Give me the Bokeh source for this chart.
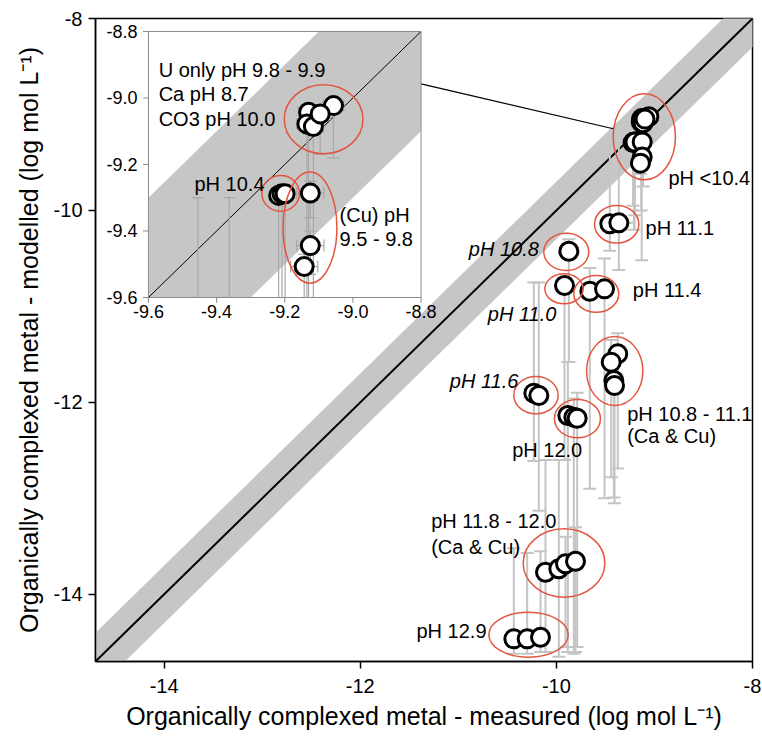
import numpy as np
from bokeh.plotting import figure
from bokeh.models import Range1d, FixedTicker, ColumnDataSource
from bokeh.core.properties import value
from bokeh.embed import file_html
from bokeh.resources import INLINE

# ---------------- data ----------------
main_ticks = [-14, -12, -10, -8]
main_tick_labels = ["-14", "-12", "-10", "-8"]
inset_ticks = [-9.6, -9.4, -9.2, -9.0, -8.8]
inset_tick_labels = ["-9.6", "-9.4", "-9.2", "-9.0", "-8.8"]

measured = [-9.057, -9.130, -9.135, -9.116, -9.096,
            -9.218, -9.208, -9.199,
            -9.125, -9.125, -9.143,
            -9.455, -9.363,
            -9.873,
            -9.917,
            -9.659, -9.509,
            -9.374, -9.441, -9.414, -9.407,
            -10.230, -10.179,
            -9.883, -9.822, -9.788,
            -10.111, -9.975, -9.907, -9.805,
            -10.434, -10.298, -10.162]
modelled = [-9.023, -9.043, -9.078, -9.086, -9.048,
            -9.293, -9.288, -9.288,
            -9.286, -9.444, -9.507,
            -10.139, -10.129,
            -10.425,
            -10.782,
            -10.842, -10.817,
            -11.494, -11.581, -11.772, -11.824,
            -11.904, -11.928,
            -12.137, -12.154, -12.165,
            -13.770, -13.734, -13.682, -13.655,
            -14.464, -14.464, -14.447]
modelled_low = [-9.18, -10.52, -10.00, -9.75, -9.17,
                -9.95, -10.20, -10.05,
                -9.36, -9.53, -9.62,
                -10.42, -10.62,
                -11.58,
                -12.60,
                -12.90, -13.00,
                -12.69, -12.78, -12.99, -13.05,
                -12.61, -13.13,
                -14.60, -14.62, -14.55,
                -14.60, -14.65, -14.55, -14.60,
                -14.62, -14.62, -14.60]
modelled_high = [-9.00, -9.02, -9.04, -9.05, -9.02,
                 -9.29, -9.27, -9.27,
                 -9.25, -9.40, -9.47,
                 -9.30, -9.30,
                 -10.30,
                 -10.70,
                 -10.60, -10.50,
                 -11.28, -11.35, -11.50, -11.60,
                 -10.75, -10.75,
                 -11.58, -11.96, -11.90,
                 -12.60, -12.60, -13.40, -13.30,
                 -13.52, -13.57, -13.55]
measured_err = [0.03, 0.03, 0.03, 0.03, 0.03,
                0.02, 0.02, 0.02,
                0.04, 0.04, 0.04,
                0.06, 0.16,
                0.05,
                0.05,
                0.05, 0.05,
                0.06, 0.06, 0.06, 0.06,
                0.05, 0.05,
                0.06, 0.06, 0.06,
                0.05, 0.05, 0.05, 0.05,
                0.04, 0.04, 0.04]

band_halfwidth = 0.3

# group labels (main plot)
label_text = ["pH <10.4", "pH 11.1", "pH 10.8", "pH 11.4", "pH 11.0", "pH 11.6",
              "pH 10.8 - 11.1", "(Ca & Cu)", "pH 12.0", "pH 11.8 - 12.0", "(Ca & Cu)", "pH 12.9"]
label_x = [-8.857, -9.091, -10.893, -9.221, -10.699, -11.087,
           -9.278, -9.278, -10.451, -11.277, -11.277, -11.427]
label_y = [-9.667, -10.178, -10.397, -10.824, -11.084, -11.782,
           -12.116, -12.355, -12.491, -13.231, -13.502, -14.377]
label_style = ["normal", "normal", "italic", "normal", "italic", "italic",
               "normal", "normal", "normal", "normal", "normal", "normal"]

ell_x = [-9.103, -9.385, -9.899, -9.922, -9.593, -9.405, -10.208, -9.785, -9.922, -10.284]
ell_y = [-9.233, -10.144, -10.431, -10.817, -10.869, -11.673, -11.925, -12.170, -13.674, -14.421]
ell_w = [0.635, 0.452, 0.459, 0.391, 0.459, 0.574, 0.452, 0.469, 0.833, 0.809]
ell_h = [0.896, 0.393, 0.389, 0.313, 0.382, 0.719, 0.389, 0.399, 0.712, 0.469]

# inset labels / ellipses (inset coordinates)
in_label_text = ["U only pH 9.8 - 9.9", "Ca pH 8.7", "CO3 pH 10.0", "pH 10.4", "(Cu) pH", "9.5 - 9.8"]
in_label_x = [-9.570, -9.570, -9.570, -9.465, -9.039, -9.039]
in_label_y = [-8.917, -8.989, -9.062, -9.260, -9.353, -9.423]
in_ell_x = [-9.086, -9.212, -9.126]
in_ell_y = [-9.064, -9.287, -9.390]
in_ell_w = [0.231, 0.110, 0.158]
in_ell_h = [0.2075, 0.107, 0.334]

# inset placement (main-plot coordinates) and connector
inset_lim = (-9.6, -8.8)
inset_x_target = (-14.16, -11.38)
inset_y_target = (-10.907, -8.135)
connector_x = [-11.38, -9.42]
connector_y = [-8.681, -9.149]

# ---------------- styles ----------------
FONT = "Liberation Sans"
BAND = "#c6c6c6"
ERR = "#c4c4c4"
RED = "#e2553f"

xs = np.array(measured)
ys = np.array(modelled)
ylo = np.array(modelled_low)
yhi = np.array(modelled_high)
xe = np.array(measured_err)
xlo = xs - xe
xhi = xs + xe

p = figure(width=762, height=736, x_range=Range1d(-14.7, -8), y_range=Range1d(-14.7, -8),
           output_backend="svg", toolbar_location=None,
           min_border_left=95, min_border_right=10, min_border_top=18, min_border_bottom=75)
p.grid.visible = False
p.outline_line_color = "black"
p.outline_line_width = 1.5
p.background_fill_color = "white"
p.border_fill_color = "white"

for ax in (p.xaxis[0], p.yaxis[0]):
    ax.ticker = FixedTicker(ticks=main_ticks)
    ax.major_label_overrides = dict(zip(main_ticks, main_tick_labels))
    ax.minor_tick_line_color = None
    ax.major_tick_in = 0
    ax.major_tick_out = 7
    ax.axis_line_width = 1.5
    ax.major_tick_line_width = 1.5
    ax.major_label_text_font = FONT
    ax.major_label_text_font_size = "20px"
    ax.major_label_text_color = "black"
    ax.axis_label_text_font = FONT
    ax.axis_label_text_font_size = "25px"
    ax.axis_label_text_font_style = "normal"
    ax.axis_label_text_color = "black"
p.xaxis.axis_label = "Organically complexed metal - measured (log mol L\u207b\u00b9)"
p.yaxis.axis_label = "Organically complexed metal - modelled (log mol L\u207b\u00b9)"
p.xaxis.major_label_standoff = 10
p.yaxis.major_label_standoff = 6
p.xaxis.axis_label_standoff = 6
p.yaxis.axis_label_standoff = 8

# band and 1:1 line
bx = np.array([-16.0, -6.0])
p.varea(x=bx, y1=bx - band_halfwidth, y2=bx + band_halfwidth, fill_color=BAND)
p.line(bx, bx, line_color="black", line_width=2)

# error bars (main)
p.segment(xs, ylo, xs, yhi, line_color=ERR, line_width=2)
p.scatter(xs, ylo, marker="dash", size=13, line_color=ERR, line_width=2)
p.scatter(xs, yhi, marker="dash", size=13, line_color=ERR, line_width=2)
p.segment(xlo, ys, xhi, ys, line_color=ERR, line_width=2)
p.scatter(xlo, ys, marker="dash", angle=np.pi / 2, size=13, line_color=ERR, line_width=2)
p.scatter(xhi, ys, marker="dash", angle=np.pi / 2, size=13, line_color=ERR, line_width=2)

# points
p.scatter(xs, ys, size=18, fill_color="white", line_color="black", line_width=3)

# ellipses & labels
p.ellipse(ell_x, ell_y, width=ell_w, height=ell_h, fill_color=None, line_color=RED, line_width=1.5)
lsrc = ColumnDataSource(dict(x=label_x, y=label_y, text=label_text, style=label_style))
p.text(x="x", y="y", text="text", source=lsrc, text_font=value(FONT), text_font_size="20px",
       text_font_style="style", text_baseline="middle", text_align="left", text_color="black")

# connector
p.line(connector_x, connector_y, line_color="black", line_width=1.2)

# ---------------- inset ----------------
lo, hi = inset_lim
ins = p.subplot(x_source=Range1d(lo, hi), y_source=Range1d(lo, hi),
                x_target=Range1d(*inset_x_target), y_target=Range1d(*inset_y_target))

ins.quad(left=[lo], right=[hi], bottom=[lo], top=[hi], fill_color="white", line_color=None)


def clip_poly(poly, xmin, xmax, ymin, ymax):
    def clip(pts, inside, inter):
        out = []
        for i in range(len(pts)):
            cur, prev = pts[i], pts[i - 1]
            if inside(cur):
                if not inside(prev):
                    out.append(inter(prev, cur))
                out.append(cur)
            elif inside(prev):
                out.append(inter(prev, cur))
        return out

    def ix(a, b, xv):
        t = (xv - a[0]) / (b[0] - a[0])
        return (xv, a[1] + t * (b[1] - a[1]))

    def iy(a, b, yv):
        t = (yv - a[1]) / (b[1] - a[1])
        return (a[0] + t * (b[0] - a[0]), yv)

    pts = clip(poly, lambda q: q[0] >= xmin, lambda a, b: ix(a, b, xmin))
    pts = clip(pts, lambda q: q[0] <= xmax, lambda a, b: ix(a, b, xmax))
    pts = clip(pts, lambda q: q[1] >= ymin, lambda a, b: iy(a, b, ymin))
    pts = clip(pts, lambda q: q[1] <= ymax, lambda a, b: iy(a, b, ymax))
    return pts


band_poly = [(-20.0, -20.0 - band_halfwidth), (-5.0, -5.0 - band_halfwidth),
             (-5.0, -5.0 + band_halfwidth), (-20.0, -20.0 + band_halfwidth)]
cp = clip_poly(band_poly, lo, hi, lo, hi)
ins.patch([q[0] for q in cp], [q[1] for q in cp], fill_color=BAND, line_color=None)
ins.line([lo, hi], [lo, hi], line_color="black", line_width=1)

IERR = "#a8a8a8"


def inr(v):
    return (v >= lo) & (v <= hi)


m = inr(xs) & (yhi >= lo) & (ylo <= hi)
ins.segment(xs[m], np.clip(ylo[m], lo, hi), xs[m], np.clip(yhi[m], lo, hi), line_color=IERR, line_width=1.2)
m = inr(xs) & inr(ylo)
ins.scatter(xs[m], ylo[m], marker="dash", size=12, line_color=IERR, line_width=1.2)
m = inr(xs) & inr(yhi)
ins.scatter(xs[m], yhi[m], marker="dash", size=12, line_color=IERR, line_width=1.2)
m = inr(ys) & (xhi >= lo) & (xlo <= hi)
ins.segment(np.clip(xlo[m], lo, hi), ys[m], np.clip(xhi[m], lo, hi), ys[m], line_color=IERR, line_width=1.2)
m = inr(ys) & inr(xhi)
ins.scatter(xhi[m], ys[m], marker="dash", angle=np.pi / 2, size=12, line_color=IERR, line_width=1.2)
m = inr(ys) & inr(xlo)
ins.scatter(xlo[m], ys[m], marker="dash", angle=np.pi / 2, size=12, line_color=IERR, line_width=1.2)

m = inr(xs) & inr(ys)
ins.scatter(xs[m], ys[m], size=18, fill_color="white", line_color="black", line_width=3)

ins.ellipse(in_ell_x, in_ell_y, width=in_ell_w, height=in_ell_h, fill_color=None, line_color=RED, line_width=1.5)

# inset frame and ticks
ins.quad(left=[lo], right=[hi], bottom=[lo], top=[hi], fill_color=None, line_color="#8a8a8a", line_width=1)
tk = np.array(inset_ticks)
tick_len = 0.016
ins.segment(tk, np.full(len(tk), lo), tk, np.full(len(tk), lo - tick_len), line_color="#8a8a8a", line_width=1)
ins.segment(np.full(len(tk), lo), tk, np.full(len(tk), lo - tick_len), tk, line_color="#8a8a8a", line_width=1)
ins.text(x=tk, y=np.full(len(tk), lo), text=inset_tick_labels, y_offset=8, text_align="center",
         text_baseline="top", text_font=value(FONT), text_font_size="18px", text_color="black")
ins.text(x=np.full(len(tk), lo), y=tk, text=inset_tick_labels, x_offset=-11, text_align="right",
         text_baseline="middle", text_font=value(FONT), text_font_size="18px", text_color="black")

ins.text(x=in_label_x, y=in_label_y, text=in_label_text, text_align="left", text_baseline="middle",
         text_font=value(FONT), text_font_size="20px", text_color="black")

open("out.html", "w").write(file_html(p, INLINE))
